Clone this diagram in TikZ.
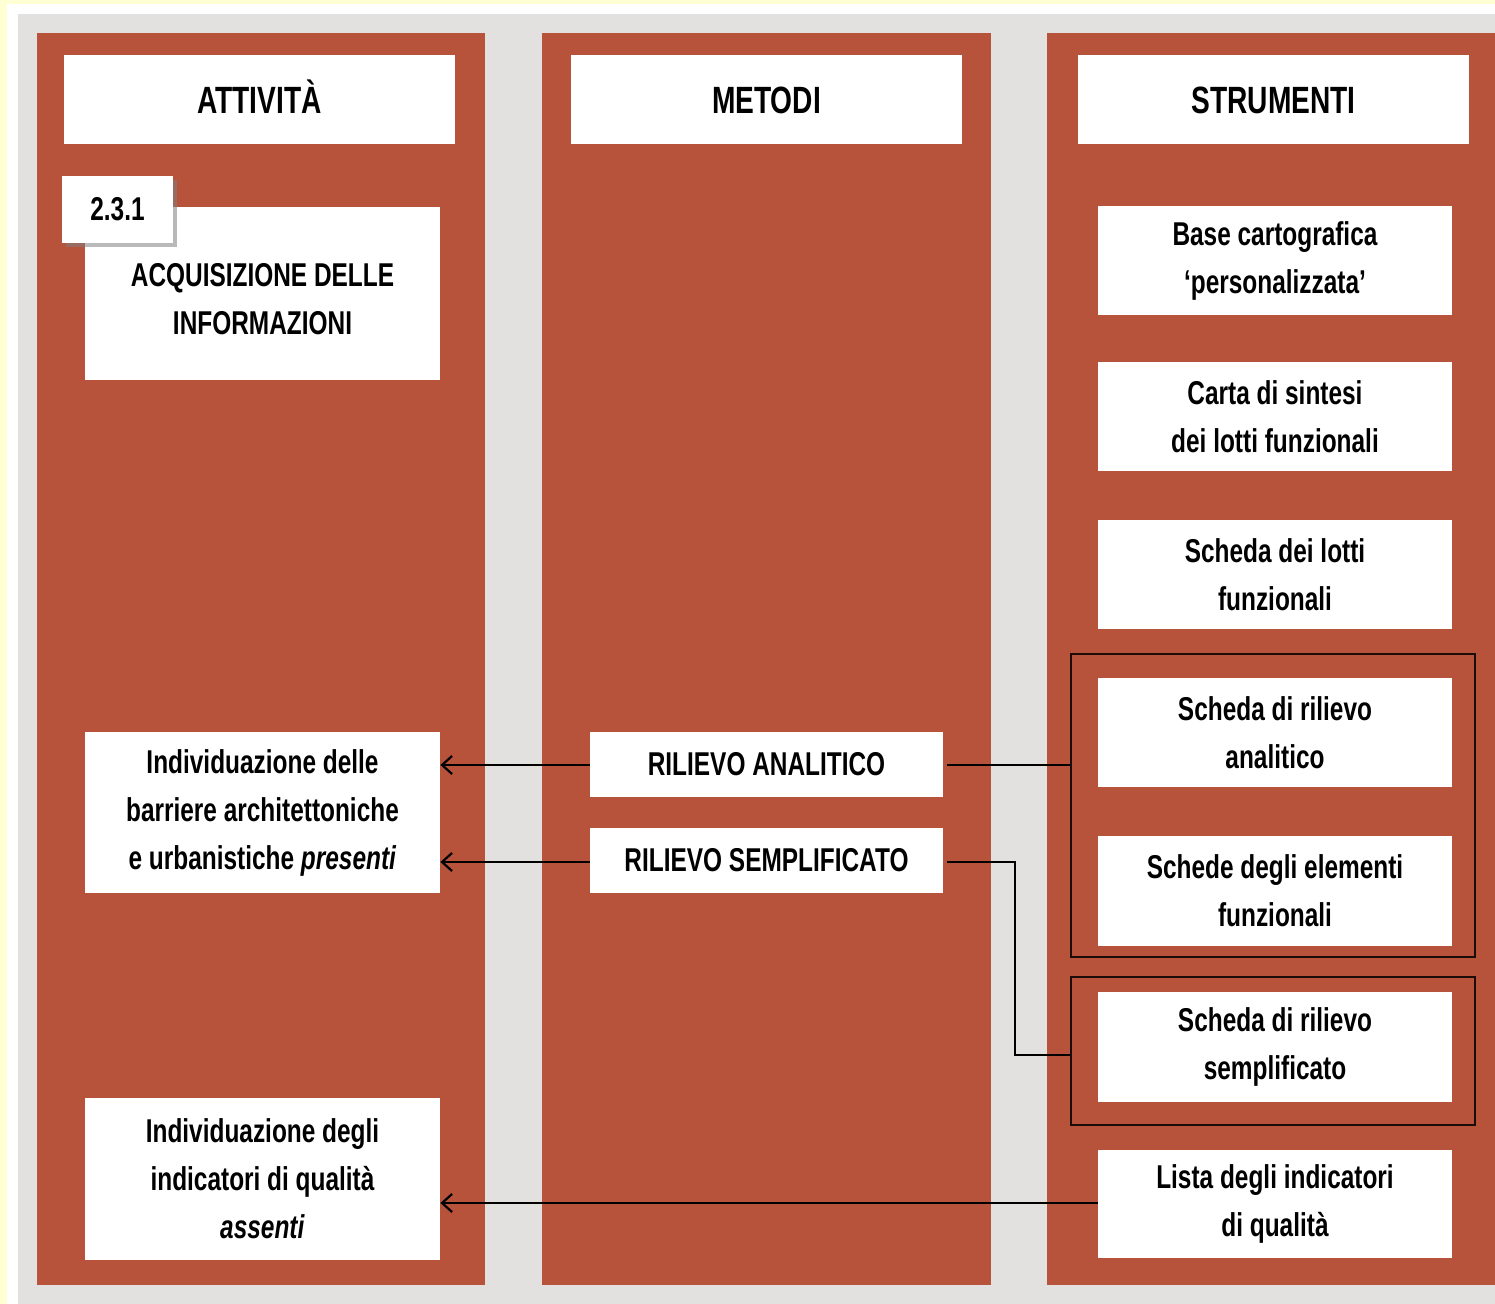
\documentclass[tikz,border=0pt]{standalone}
\usepackage{fontspec}
\setmainfont[FakeStretch=0.74]{Liberation Sans}
\usetikzlibrary{fit,arrows.meta}
\definecolor{brick}{HTML}{B8533B}
\definecolor{panelgray}{HTML}{E3E1DF}
\definecolor{paleyellow}{HTML}{FFFFD4}
\begin{document}
\begin{tikzpicture}[x=0.5pt,y=-0.5pt,
  wbox/.style={fill=white, draw=none, inner sep=0pt},
  txt/.style={inner sep=0pt, align=center,
    font=\fontsize{16.5}{24}\selectfont\bfseries},
  htxt/.style={txt, font=\fontsize{19}{24}\selectfont\bfseries,
    text height=13.6pt, text depth=0pt},
  frame/.style={draw=black!85!brick, line width=1pt, inner sep=0pt},
  conn/.style={draw=black, line width=1.1pt},
  arr/.style={conn, -{Straight Barb[length=5pt,width=9pt,line width=1.1pt]}}]
\useasboundingbox (0,0) rectangle (1495,1304);
% page background
\fill[paleyellow] (0,0) rectangle (1495,1304);
\fill[white] (7,4) rectangle (1495,1304);
\fill[panelgray] (18,14) rectangle (1495,1304);
% three columns
\fill[brick] (37,33) rectangle (485,1285);
\fill[brick] (542,33) rectangle (991,1285);
\fill[brick] (1047,33) rectangle (1495,1285);
% column headers
\node[wbox, fit={(64,55) (455,144)}] (hA) {};
\node[htxt] (hAt) at (hA.center) {ATTIVITÀ};
\node[wbox, fit={(571,55) (962,144)}] (hM) {};
\node[htxt] (hMt) at (hM.center) {METODI};
\node[wbox, fit={(1078,55) (1469,144)}] (hS) {};
\node[htxt] (hSt) at (hS.center) {STRUMENTI};
% activity title with number tab
\node[wbox, fit={(85,207) (440,380)}] (acq) {};
\node[txt] (acqt) at ([yshift=-3pt]acq.center) {ACQUISIZIONE DELLE\\INFORMAZIONI};
\fill[black!50, opacity=0.55] (66,180) rectangle (177,247);
\node[wbox, fit={(62,176) (173,243)}] (num) {};
\node[txt] (numt) at (num.center) {2.3.1};
% activities
\node[wbox, fit={(85,732) (440,893)}] (barr) {};
\node[txt] (barrt) at (barr.center) {Individuazione delle\\barriere architettoniche\\e urbanistiche \textit{presenti}};
\node[wbox, fit={(85,1098) (440,1260)}] (indic) {};
\node[txt] (indict) at (indic.center) {Individuazione degli\\indicatori di qualità\\\textit{assenti}};
% methods
\node[wbox, fit={(590,732) (943,797)}] (ran) {};
\node[txt] (rant) at (ran.center) {RILIEVO ANALITICO};
\node[wbox, fit={(590,828) (943,893)}] (rsem) {};
\node[txt] (rsemt) at (rsem.center) {RILIEVO SEMPLIFICATO};
% tools
\node[wbox, fit={(1098,206) (1452,315)}] (base) {};
\node[txt] (baset) at (base.center) {Base cartografica\\‘personalizzata’};
\node[wbox, fit={(1098,362) (1452,471)}] (carta) {};
\node[txt] (cartat) at (carta.center) {Carta di sintesi\\dei lotti funzionali};
\node[wbox, fit={(1098,520) (1452,629)}] (lotti) {};
\node[txt] (lottit) at (lotti.center) {Scheda dei lotti\\funzionali};
\node[wbox, fit={(1098,678) (1452,787)}] (sana) {};
\node[txt] (sanat) at (sana.center) {Scheda di rilievo\\analitico};
\node[wbox, fit={(1098,836) (1452,946)}] (elem) {};
\node[txt] (elemt) at (elem.center) {Schede degli elementi\\funzionali};
\node[wbox, fit={(1098,992) (1452,1102)}] (ssem) {};
\node[txt] (ssemt) at (ssem.center) {Scheda di rilievo\\semplificato};
\node[wbox, fit={(1098,1150) (1452,1258)}] (lista) {};
\node[txt] (listat) at (lista.center) {Lista degli indicatori\\di qualità};
% tool groups
\node[frame, fit={(1071,654) (1475,957)}] (gA) {};
\node[frame, fit={(1071,977) (1475,1125)}] (gS) {};
% connectors
\draw[arr] (ran.west |- 0,765) -- (barr.east |- 0,765);
\draw[arr] (rsem.west |- 0,862) -- (barr.east |- 0,862);
\coordinate (bendA) at (1015,862);
\coordinate (bendB) at (1015,1055);
\draw[conn] (ran.east |- 0,765) ++(4,0) -- (gA.west |- 0,765);
\draw[conn] (rsem.east |- 0,862) ++(4,0) -- (bendA) -- (bendB) -- (gS.west |- bendB);
\draw[arr] (lista.west |- 0,1203) -- (indic.east |- 0,1203);
\end{tikzpicture}
\end{document}
